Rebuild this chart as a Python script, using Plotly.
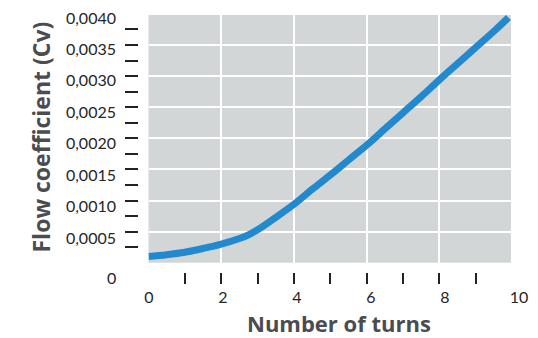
import plotly.graph_objects as go

# ---- data ----
turns = [0, 0.5, 1, 1.5, 2, 2.5, 2.75, 3, 3.5, 4, 4.5, 5, 5.5, 6, 6.5, 7, 7.5, 8, 8.5, 9, 9.5, 9.9]
cv = [0.0001, 0.00013, 0.00017, 0.00023, 0.0003, 0.00039, 0.00045, 0.00053, 0.00073,
      0.00094, 0.00118, 0.00141, 0.00165, 0.00189, 0.00215, 0.00241, 0.00267, 0.00294,
      0.0032, 0.00346, 0.00372, 0.00394]

x_label_vals = [0, 2, 4, 6, 8, 10]
x_label_text = ["0", "2", "4", "6", "8", "10"]
x_minor_ticks = [1, 2, 3, 4, 5, 6, 7, 8, 9]
x_grid = [2, 4, 6, 8]

y_label_vals = [0.0005, 0.0010, 0.0015, 0.0020, 0.0025, 0.0030, 0.0035, 0.0040]
y_label_text = ["0,0005", "0,0010", "0,0015", "0,0020", "0,0025", "0,0030", "0,0035", "0,0040"]
y_zero_label = "0"
y_minor_ticks = [0.00025 * i for i in range(1, 16)]
y_grid = [0.0005, 0.0010, 0.0015, 0.0020, 0.0025, 0.0030, 0.0035]

x_title = "<b>Number of turns</b>"
y_title = "<b>Flow coefficient (Cv)</b>"

W, H = 538, 338
def px_x(p):
    return p / W
def px_y(p):
    return (H - p) / H

TICK_FONT = dict(family="Lato, 'Open Sans', sans-serif", size=16, color="#262626")
TITLE_FONT = dict(family="'Open Sans', sans-serif", size=23, color="#4a4c4f")
XTITLE_FONT = dict(family="'Open Sans', sans-serif", size=22, color="#4a4c4f")

fig = go.Figure()
fig.add_trace(go.Scatter(x=turns, y=cv, mode="lines",
                         line=dict(color="#2389cf", width=7, shape="spline", smoothing=1.0),
                         hoverinfo="skip", showlegend=False))
# empty helper traces so that the decorative label / tick axes are drawn
fig.add_trace(go.Scatter(x=[], y=[], xaxis="x2", yaxis="y2", showlegend=False))
fig.add_trace(go.Scatter(x=[], y=[], xaxis="x3", yaxis="y", showlegend=False))
fig.add_trace(go.Scatter(x=[], y=[], xaxis="x", yaxis="y3", showlegend=False))

fig.update_layout(
    width=W, height=H, autosize=False,
    margin=dict(l=0, r=0, t=0, b=0, pad=0, autoexpand=False),
    paper_bgcolor="white",
    plot_bgcolor="rgba(0,0,0,0)",
    showlegend=False,
    xaxis=dict(domain=[px_x(148.5), px_x(511)], range=[0, 9.97],
               tickvals=x_grid, showticklabels=False, ticks="",
               showgrid=True, gridcolor="white", gridwidth=2,
               zeroline=False, showline=False, fixedrange=True, automargin=False),
    yaxis=dict(domain=[px_y(262.8), px_y(15)], range=[0, 0.003981],
               tickvals=y_grid, showticklabels=False, ticks="",
               showgrid=True, gridcolor="white", gridwidth=2,
               zeroline=False, showline=False, fixedrange=True, automargin=False),
    # tick labels for x
    xaxis2=dict(domain=[px_x(149), px_x(519)], range=[0, 10], anchor="free",
                position=px_y(286), tickvals=x_label_vals, ticktext=x_label_text,
                ticks="", showgrid=False, zeroline=False, showline=False,
                tickfont=TICK_FONT, fixedrange=True, automargin=False),
    # tick labels for y
    yaxis2=dict(domain=[px_y(238), px_y(18)], range=[0.0005, 0.004], anchor="free",
                position=px_x(116), tickvals=y_label_vals, ticktext=y_label_text,
                ticks="", showgrid=False, zeroline=False, showline=False,
                tickfont=TICK_FONT, fixedrange=True, automargin=False),
    # detached tick marks for x
    xaxis3=dict(overlaying="x", anchor="free", position=px_y(272), range=[0, 9.97],
                tickvals=x_minor_ticks, showticklabels=False, ticks="outside",
                ticklen=11, tickwidth=2, tickcolor="#222222",
                showgrid=False, zeroline=False, showline=False, fixedrange=True, automargin=False),
    # detached tick marks for y
    yaxis3=dict(overlaying="y", anchor="free", position=px_x(138), range=[0, 0.003981],
                tickvals=y_minor_ticks, showticklabels=False, ticks="outside",
                ticklen=13, tickwidth=2, tickcolor="#222222",
                showgrid=False, zeroline=False, showline=False, fixedrange=True, automargin=False),
    shapes=[dict(type="rect", xref="x domain", yref="y domain", x0=0, x1=1, y0=0, y1=1,
                 fillcolor="#d3d6d7", line=dict(width=0), layer="below")],
    annotations=[
        dict(text=y_zero_label, xref="paper", yref="paper", x=px_x(118), y=px_y(277),
             xanchor="right", yanchor="middle", showarrow=False, font=TICK_FONT),
        dict(text=x_title, xref="paper", yref="paper",
             x=px_x(339), y=px_y(323), xanchor="center", yanchor="middle",
             showarrow=False, font=XTITLE_FONT, borderpad=0),
        dict(text=y_title, xref="paper", yref="paper",
             x=px_x(40), y=px_y(137.5), xanchor="center", yanchor="middle",
             textangle=-90, showarrow=False, font=TITLE_FONT),
    ],
)

fig.write_html("out.html", config={"displayModeBar": False},
               post_script="document.body.style.margin='0';document.body.style.padding='0';"
                           "document.body.style.overflow='hidden';")
